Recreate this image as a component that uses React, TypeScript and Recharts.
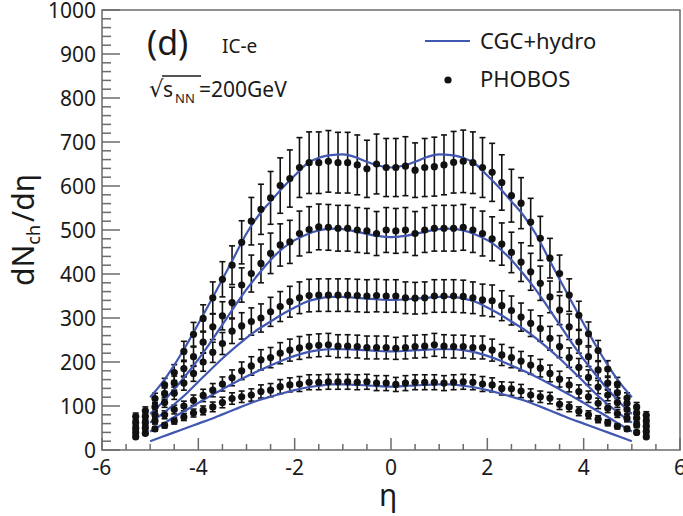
import React from 'react';
import { ComposedChart, Line, Scatter, ErrorBar, XAxis, YAxis, ReferenceArea } from 'recharts';

// PHOBOS pseudorapidity bins
const ETA = [-5.3, -5.1, -4.9, -4.7, -4.5, -4.3, -4.1, -3.9, -3.7, -3.5, -3.3, -3.1, -2.9, -2.7, -2.5, -2.3, -2.1, -1.9, -1.7, -1.5, -1.3, -1.1, -0.9, -0.7, -0.5, -0.3, -0.1, 0.1, 0.3, 0.5, 0.7, 0.9, 1.1, 1.3, 1.5, 1.7, 1.9, 2.1, 2.3, 2.5, 2.7, 2.9, 3.1, 3.3, 3.5, 3.7, 3.9, 4.1, 4.3, 4.5, 4.7, 4.9, 5.1, 5.3];

// PHOBOS dNch/deta, five centrality classes (top to bottom)
const PHOBOS_C1 = [76, 89, 117, 148, 176, 224, 263, 299, 346, 388, 420, 472, 520, 547, 573, 601, 617, 642, 653, 653, 656, 653, 653, 648, 639, 650, 642, 642, 645, 636, 642, 644, 648, 654, 656, 653, 642, 631, 608, 578, 561, 518, 481, 436, 401, 352, 306, 264, 226, 184, 150, 118, 98, 79];
const ERR_C1 = [8, 9, 12, 15, 18, 23, 27, 31, 36, 40, 44, 49, 54, 57, 60, 63, 65, 68, 70, 70, 70, 69, 69, 68, 65, 68, 66, 66, 67, 62, 66, 67, 68, 70, 71, 70, 68, 66, 63, 60, 58, 54, 50, 45, 42, 37, 32, 27, 23, 19, 15, 12, 10, 8];

const PHOBOS_C2 = [62, 76, 98, 128, 152, 185, 212, 245, 280, 305, 335, 375, 401, 424, 447, 466, 473, 492, 501, 507, 506, 504, 504, 500, 498, 492, 500, 498, 500, 492, 500, 504, 504, 504, 506, 500, 492, 480, 468, 449, 427, 405, 379, 348, 318, 280, 246, 212, 182, 152, 130, 106, 84, 66];
const ERR_C2 = [6, 8, 10, 13, 16, 19, 22, 25, 29, 32, 35, 39, 42, 44, 46, 48, 49, 51, 52, 52, 52, 52, 52, 51, 51, 50, 51, 51, 51, 50, 51, 52, 52, 52, 52, 51, 51, 50, 48, 46, 44, 42, 39, 36, 33, 29, 26, 22, 19, 16, 13, 11, 9, 7];

const PHOBOS_C3 = [50, 62, 80, 108, 129, 152, 174, 200, 222, 242, 270, 282, 292, 300, 314, 326, 337, 346, 351, 352, 352, 352, 352, 351, 350, 351, 350, 350, 346, 345, 346, 350, 350, 350, 349, 346, 341, 339, 328, 317, 302, 288, 276, 254, 235, 210, 188, 165, 143, 125, 108, 92, 72, 54];
const ERR_C3 = [5, 7, 9, 11, 14, 16, 18, 21, 23, 25, 28, 30, 31, 32, 33, 34, 35, 36, 37, 37, 37, 37, 37, 37, 37, 37, 37, 37, 36, 36, 36, 37, 37, 37, 37, 36, 36, 36, 34, 33, 32, 30, 29, 27, 25, 22, 20, 17, 15, 13, 11, 10, 8, 6];

const PHOBOS_C4 = [40, 50, 66, 80, 92, 100, 113, 124, 136, 150, 164, 180, 191, 205, 210, 220, 227, 232, 236, 238, 239, 236, 236, 235, 233, 233, 233, 231, 233, 235, 236, 239, 236, 235, 235, 233, 233, 227, 216, 210, 202, 193, 186, 174, 161, 148, 133, 121, 106, 95, 83, 72, 57, 42];
const ERR_C4 = [5, 6, 7, 9, 10, 11, 12, 14, 15, 16, 18, 20, 21, 23, 23, 24, 25, 26, 26, 26, 26, 26, 26, 26, 26, 26, 26, 25, 26, 26, 26, 26, 26, 26, 26, 26, 26, 25, 24, 23, 22, 21, 20, 19, 18, 16, 15, 13, 12, 10, 9, 8, 6, 5];

const PHOBOS_C5 = [30, 38, 48, 56, 66, 75, 84, 90, 98, 108, 117, 121, 125, 133, 136, 144, 148, 150, 154, 154, 155, 155, 155, 154, 155, 152, 152, 149, 152, 154, 154, 154, 152, 154, 155, 154, 150, 148, 140, 139, 134, 125, 121, 118, 104, 98, 88, 80, 70, 62, 54, 48, 40, 30];
const ERR_C5 = [4, 4, 5, 6, 7, 8, 9, 10, 11, 12, 13, 13, 14, 15, 15, 16, 16, 17, 17, 17, 17, 17, 17, 17, 17, 17, 17, 16, 17, 17, 17, 17, 17, 17, 17, 17, 17, 16, 15, 15, 15, 14, 13, 13, 12, 11, 10, 9, 8, 7, 6, 5, 4, 4];

// CGC+hydro model curves
const MODEL_ETA = [-5, -4.75, -4.5, -4.25, -4, -3.75, -3.5, -3.25, -3, -2.75, -2.5, -2.25, -2, -1.75, -1.5, -1.25, -1, -0.75, -0.5, -0.25, 0, 0.25, 0.5, 0.75, 1, 1.25, 1.5, 1.75, 2, 2.25, 2.5, 2.75, 3, 3.25, 3.5, 3.75, 4, 4.25, 4.5, 4.75, 5];
const MODEL_C1 = [120, 153, 193, 238, 287, 337, 388, 440, 492, 533, 565, 596, 624, 650, 664, 670, 672, 666, 655, 646, 642, 646, 655, 666, 672, 670, 664, 650, 624, 596, 565, 533, 492, 440, 388, 337, 287, 238, 193, 153, 120];
const MODEL_C2 = [82, 108, 138, 171, 206, 244, 285, 326, 365, 400, 432, 458, 477, 490, 499, 503, 502, 497, 491, 486, 484, 486, 491, 497, 502, 503, 499, 490, 477, 458, 432, 400, 365, 326, 285, 244, 206, 171, 138, 108, 82];
const MODEL_C3 = [62, 82, 104, 128, 155, 182, 208, 232, 255, 275, 292, 309, 324, 337, 344, 348, 348, 346, 344, 342, 341, 342, 344, 346, 348, 348, 344, 337, 324, 309, 292, 275, 255, 232, 208, 182, 155, 128, 104, 82, 62];
const MODEL_C4 = [42, 58, 75, 91, 107, 123, 138, 153, 167, 180, 192, 204, 214, 222, 227, 229, 229, 228, 227, 225, 224, 225, 227, 228, 229, 229, 227, 222, 214, 204, 192, 180, 167, 153, 138, 123, 107, 91, 75, 58, 42];
const MODEL_C5 = [20, 30, 40, 50, 60, 70, 81, 92, 103, 113, 121, 129, 136, 142, 146, 149, 149, 148, 147, 145, 144, 145, 147, 148, 149, 149, 146, 142, 136, 129, 121, 113, 103, 92, 81, 70, 60, 50, 40, 30, 20];

// axis ticks (labelled ticks are the major ones)
const X_MAJOR = [-6, -4, -2, 0, 2, 4, 6];
const X_TICKS = [-6, -5.5, -5, -4.5, -4, -3.5, -3, -2.5, -2, -1.5, -1, -0.5, 0, 0.5, 1, 1.5, 2, 2.5, 3, 3.5, 4, 4.5, 5, 5.5, 6];
const Y_MAJOR = [0, 100, 200, 300, 400, 500, 600, 700, 800, 900, 1000];
const Y_TICKS = [0, 20, 40, 60, 80, 100, 120, 140, 160, 180, 200, 220, 240, 260, 280, 300, 320, 340, 360, 380, 400, 420, 440, 460, 480, 500, 520, 540, 560, 580, 600, 620, 640, 660, 680, 700, 720, 740, 760, 780, 800, 820, 840, 860, 880, 900, 920, 940, 960, 980, 1000];

const BLUE = '#4257b2';
const AXIS = '#6b6b6b';
const TEXT = '#1a1a1a';
const FONT = '"Noto Sans", "DejaVu Sans", sans-serif';
const LABEL_SIZE = 21;

const pts = (vals: number[], errs: number[]) => ETA.map((x, i) => ({ x, y: vals[i], e: errs[i] }));
const curve = (vals: number[]) => MODEL_ETA.map((x, i) => ({ x, y: vals[i] }));

const DATA_SETS = [
  pts(PHOBOS_C1, ERR_C1),
  pts(PHOBOS_C2, ERR_C2),
  pts(PHOBOS_C3, ERR_C3),
  pts(PHOBOS_C4, ERR_C4),
  pts(PHOBOS_C5, ERR_C5),
];
const MODEL_SETS = [curve(MODEL_C1), curve(MODEL_C2), curve(MODEL_C3), curve(MODEL_C4), curve(MODEL_C5)];

// x tick: inward tick mark (up from axis) + label for major ticks
const XTick = (p: any) => {
  const v = p.payload.value;
  const major = X_MAJOR.includes(v);
  const len = major ? 12 : 6;
  return (
    <g>
      <line x1={p.x} y1={p.y} x2={p.x} y2={p.y - len} stroke={AXIS} strokeWidth={1.5} />
      {major && (
        <text x={p.x} y={p.y + 25} textAnchor="middle" fontSize={LABEL_SIZE} fill={TEXT} fontFamily={FONT}>{v}</text>
      )}
    </g>
  );
};

// y tick: inward tick mark (right from axis) + label for major ticks
const YTick = (p: any) => {
  const v = p.payload.value;
  const major = Y_MAJOR.includes(v);
  const len = major ? 18 : 9;
  return (
    <g>
      <line x1={p.x} y1={p.y} x2={p.x + len} y2={p.y} stroke={AXIS} strokeWidth={1.5} />
      {major && (
        <text x={p.x - 6} y={p.y + 7.5} textAnchor="end" fontSize={LABEL_SIZE} fill={TEXT} fontFamily={FONT}>{v}</text>
      )}
    </g>
  );
};

const dot = (p: any) => <circle cx={p.cx} cy={p.cy} r={3.6} fill="#111" />;

export default function App() {
  return (
    <div style={{ position: 'absolute', left: 0, top: 0, width: 683, height: 516, background: '#fff' }}>
      <ComposedChart width={683} height={516} margin={{ top: 10, right: 3, bottom: 36, left: 57 }} style={{ fontFamily: FONT }}>
        <ReferenceArea x1={-6} x2={6} y1={0} y2={1000} fill="none" stroke={AXIS} strokeWidth={1.5} />
        <XAxis dataKey="x" type="number" domain={[-6, 6]} allowDataOverflow ticks={X_TICKS} interval={0}
          height={30} tickSize={0} tickMargin={0} axisLine={false} tickLine={false} tick={XTick} />
        <YAxis type="number" domain={[0, 1000]} allowDataOverflow ticks={Y_TICKS} interval={0}
          width={45} tickSize={0} tickMargin={0} axisLine={false} tickLine={false} tick={YTick} />
        {DATA_SETS.map((d, i) => (
          <Scatter key={'s' + i} data={d} dataKey="y" shape={dot} isAnimationActive={false}>
            <ErrorBar dataKey="e" direction="y" width={3} stroke="#111" strokeWidth={1.6} isAnimationActive={false} />
          </Scatter>
        ))}
        {MODEL_SETS.map((d, i) => (
          <Line key={'l' + i} data={d} dataKey="y" type="monotone" stroke={BLUE} strokeWidth={2.2}
            dot={false} activeDot={false} isAnimationActive={false} />
        ))}
      </ComposedChart>
      <svg width={683} height={516} style={{ position: 'absolute', left: 0, top: 0, pointerEvents: 'none' }} fontFamily={FONT} fill={TEXT}>
        <text x={147} y={55} fontSize={34}>(d)</text>
        <text x={222} y={53} fontSize={19}>IC-e</text>
        <text x={149} y={97} fontSize={23}>√</text>
        <line x1={162} y1={76} x2={201} y2={76} stroke={TEXT} strokeWidth={1.3} />
        <text x={163} y={97} fontSize={21}>s</text>
        <text x={175} y={103} fontSize={13}>NN</text>
        <text x={199} y={97} fontSize={21}>=200GeV</text>
        <line x1={425} y1={41} x2={470} y2={41} stroke={BLUE} strokeWidth={2.2} />
        <text x={480} y={49} fontSize={22}>CGC+hydro</text>
        <circle cx={448} cy={80} r={3.6} fill="#111" />
        <text x={480} y={87} fontSize={22}>PHOBOS</text>
        <text transform="translate(34,230) rotate(-90)" textAnchor="middle" fontSize={30}>
          dN<tspan fontSize={18} dy={6}>ch</tspan><tspan dx={3} dy={-6}>/dη</tspan>
        </text>
        <text x={388} y={506} textAnchor="middle" fontSize={30}>η</text>
      </svg>
    </div>
  );
}
